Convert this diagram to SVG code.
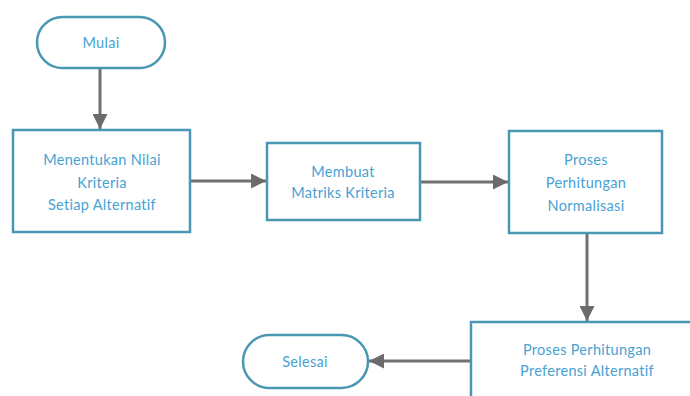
<svg xmlns="http://www.w3.org/2000/svg" width="690" height="396" viewBox="0 0 690 396">
<style>
.n{fill:#fff;stroke:#4a97b3;stroke-width:2.5}
.t{font-family:Lato,"Liberation Sans",sans-serif;font-size:14.5px;letter-spacing:0.3px;fill:#46a2d3;text-anchor:middle}
.c{stroke:#707070;stroke-width:3;fill:none}
</style>
<defs>
<marker id="ah" markerWidth="5" markerHeight="5" refX="5" refY="2.5" orient="auto" markerUnits="strokeWidth">
<path d="M0,0 L5,2.5 L0,5 Z" fill="#6b6b6b"/>
</marker>
</defs>
<rect width="690" height="396" fill="#fff"/>
<g id="connectors">
<line class="c" x1="100" y1="68" x2="100" y2="129" marker-end="url(#ah)"/>
<line class="c" x1="190" y1="181" x2="266" y2="181" marker-end="url(#ah)"/>
<line class="c" x1="420" y1="182" x2="508" y2="182" marker-end="url(#ah)"/>
<line class="c" x1="587" y1="233" x2="587" y2="321" marker-end="url(#ah)"/>
<line class="c" x1="471" y1="361" x2="369" y2="361" marker-end="url(#ah)"/>
</g>
<g id="mulai">
<rect class="n" x="37" y="17" width="128" height="51" rx="25.5"/>
<text class="t" x="101" y="48">Mulai</text>
</g>
<g id="menentukan">
<rect class="n" x="13" y="130" width="177" height="102"/>
<text class="t" x="102" y="165">Menentukan Nilai</text>
<text class="t" x="102" y="188">Kriteria</text>
<text class="t" x="102" y="210">Setiap Alternatif</text>
</g>
<g id="membuat">
<rect class="n" x="267" y="143" width="153" height="77"/>
<text class="t" x="343" y="177">Membuat</text>
<text class="t" x="343" y="198">Matriks Kriteria</text>
</g>
<g id="normalisasi">
<rect class="n" x="509" y="131" width="153" height="102"/>
<text class="t" x="586" y="165">Proses</text>
<text class="t" x="586" y="188">Perhitungan</text>
<text class="t" x="586" y="211">Normalisasi</text>
</g>
<g id="preferensi">
<rect class="n" x="471" y="322" width="230" height="90"/>
<text class="t" x="587" y="355">Proses Perhitungan</text>
<text class="t" x="587" y="376">Preferensi Alternatif</text>
</g>
<g id="selesai">
<rect class="n" x="243" y="335" width="125" height="53" rx="26.5"/>
<text class="t" x="305" y="367">Selesai</text>
</g>
</svg>
